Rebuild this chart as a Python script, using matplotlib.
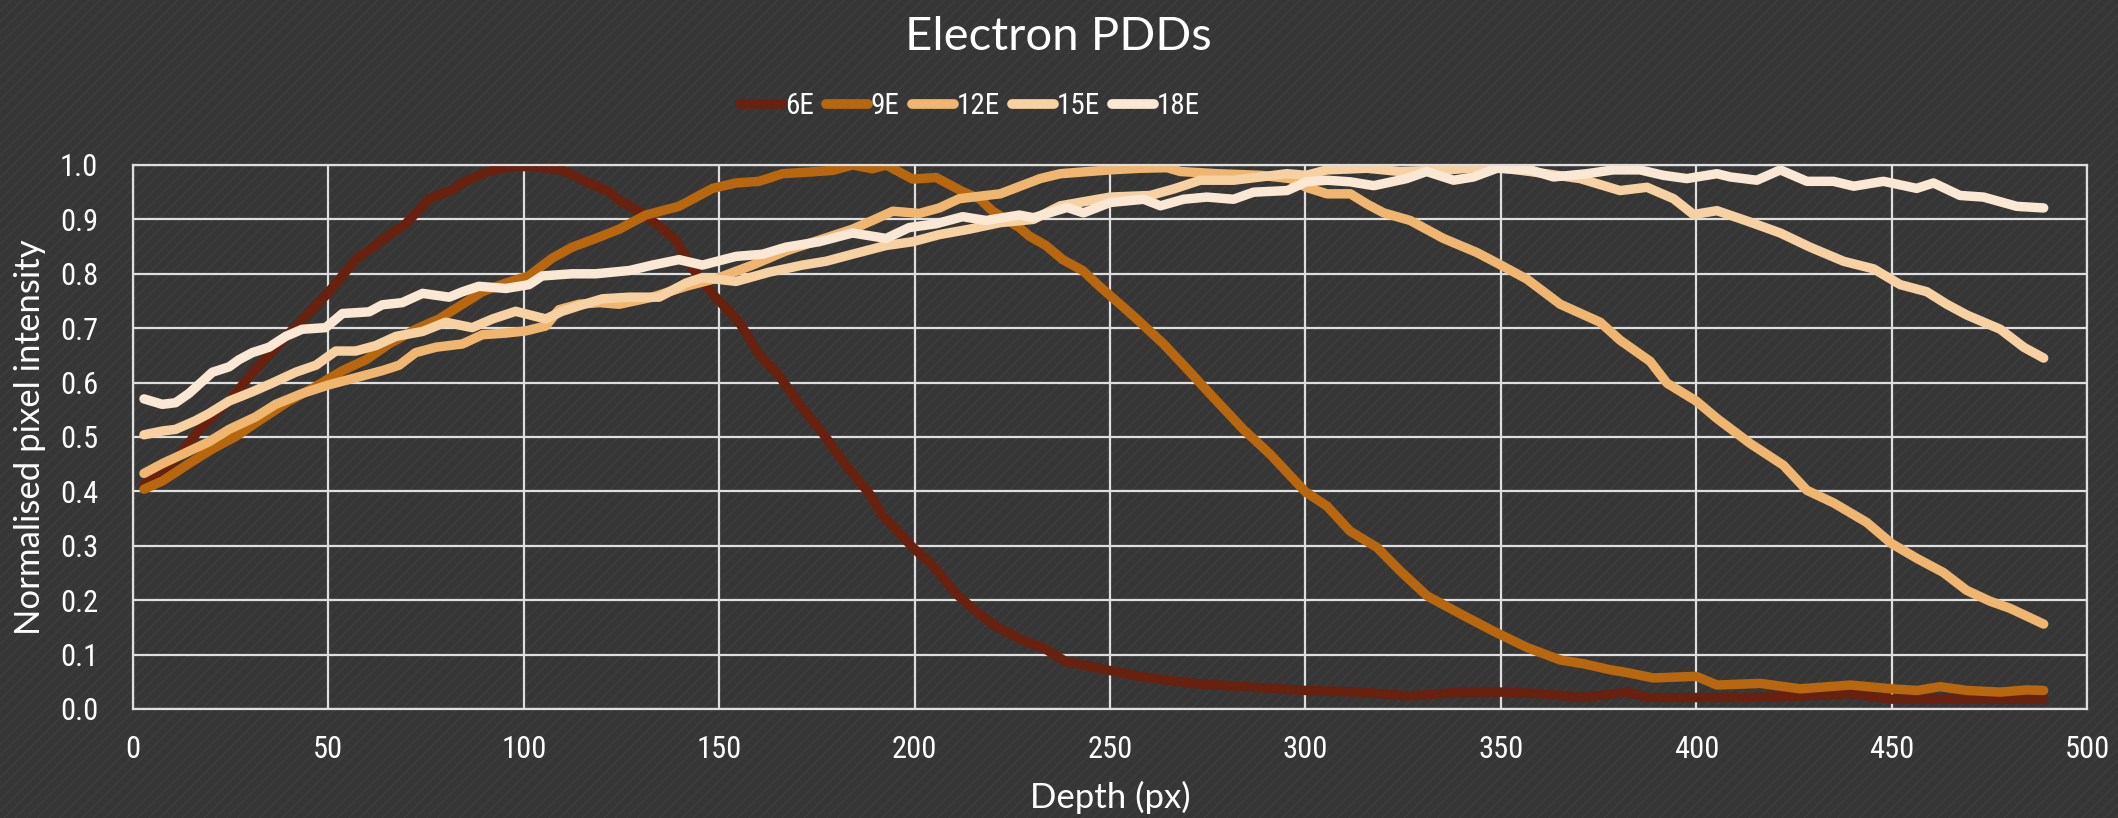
import matplotlib
matplotlib.use('Agg')
from matplotlib import pyplot as plt
from matplotlib import font_manager
from matplotlib.patches import Rectangle


# depth (px) and normalised intensity
depth_6e = [2.8, 10.9, 17.7, 24.6, 31.4, 40, 49.3, 57, 63.8, 69.8, 75.8, 81.7, 84.3, 90.3, 97, 103, 110,
            116.7, 121.8, 124.4, 129.5, 134.6, 138.9, 143.2, 149.1, 155.1, 160.2, 165.4, 170.5, 176.5,
            182.4, 188.4, 191.8, 199.5, 204.6, 210.6, 215.7, 220.8, 227.6, 232.8, 238.7, 245.6, 252.4,
            260.2, 271.3, 284.1, 300, 314, 326.8, 339.6, 350, 361, 371, 382.2, 388, 400, 413.8, 426.6,
            439.4, 450, 460.7, 473.5, 482, 488.9]
pdd_6e = [0.413, 0.458, 0.52, 0.566, 0.625, 0.691, 0.760, 0.826, 0.862, 0.892, 0.938, 0.954, 0.967, 0.987,
          0.997, 0.997, 0.99, 0.967, 0.951, 0.935, 0.915, 0.888, 0.862, 0.809, 0.757, 0.711, 0.652, 0.612,
          0.560, 0.507, 0.448, 0.396, 0.356, 0.297, 0.264, 0.212, 0.179, 0.152, 0.126, 0.113, 0.087, 0.077,
          0.067, 0.057, 0.047, 0.041, 0.034, 0.031, 0.024, 0.031, 0.031, 0.028, 0.021, 0.031, 0.021, 0.021,
          0.021, 0.024, 0.028, 0.018, 0.018, 0.018, 0.018, 0.018]

depth_9e = [2.8, 7.5, 14.3, 20.3, 26.3, 33.1, 39.9, 46.8, 53.6, 59.6, 65.5, 72.3, 78.3, 84.3, 89.4, 95.4,
            101.3, 107.3, 112.4, 118.4, 124.4, 131.2, 139.7, 148.3, 154.3, 160.2, 166.2, 173, 179, 184.1,
            189.2, 192.7, 199.5, 205.5, 212.3, 216.6, 220, 226.8, 229.4, 233.6, 237.9, 243, 247.3, 252.4,
            256.8, 263.7, 270.5, 275.6, 284.1, 291, 300, 305.5, 311.4, 318.3, 324.2, 331.1, 339.6, 348.1,
            356.7, 365.2, 371.2, 378, 382.2, 389, 400, 405.3, 416.4, 426.6, 439.4, 450, 456.5, 462.4,
            469.3, 477.8, 484.6, 488.9]
pdd_9e = [0.404, 0.419, 0.451, 0.478, 0.501, 0.534, 0.566, 0.593, 0.622, 0.642, 0.671, 0.698, 0.717, 0.744,
          0.767, 0.783, 0.796, 0.829, 0.849, 0.865, 0.882, 0.908, 0.924, 0.957, 0.967, 0.970, 0.984, 0.987,
          0.990, 1.0, 0.993, 1.0, 0.974, 0.977, 0.951, 0.938, 0.915, 0.885, 0.869, 0.852, 0.826, 0.806,
          0.777, 0.745, 0.717, 0.671, 0.619, 0.579, 0.514, 0.468, 0.399, 0.373, 0.327, 0.297, 0.254, 0.208,
          0.175, 0.143, 0.113, 0.090, 0.083, 0.072, 0.067, 0.057, 0.060, 0.044, 0.047, 0.037, 0.044, 0.037,
          0.034, 0.041, 0.034, 0.031, 0.035, 0.034]

depth_12e = [2.8, 7.5, 12.6, 19.4, 24.6, 31.4, 36.5, 43.3, 50.2, 57, 63.8, 68.1, 72.3, 77.5, 84.3, 89.4,
             95.4, 100.5, 105.6, 109, 114.1, 119.3, 124.4, 132.9, 141.5, 150, 158.5, 167.1, 175.6, 184.1,
             189.2, 194.4, 201.2, 206.3, 211.4, 218.3, 221.9, 232.1, 237.3, 250, 257.7, 264.6, 268, 277.4,
             288.5, 296.1, 300.2, 305.5, 311.5, 315.8, 320, 326.8, 335.3, 343.9, 350, 356.7, 365.2, 375.4,
             380.5, 388.2, 392.5, 400, 405.3, 413.8, 422.3, 428.3, 435.1, 443.6, 450, 456.4, 463.2, 469.2,
             475.2, 480.3, 488.9]
pdd_12e = [0.433, 0.451, 0.468, 0.491, 0.514, 0.537, 0.560, 0.580, 0.596, 0.609, 0.622, 0.632, 0.655, 0.665,
           0.671, 0.688, 0.691, 0.695, 0.704, 0.734, 0.744, 0.747, 0.744, 0.757, 0.777, 0.793, 0.816, 0.842,
           0.862, 0.882, 0.898, 0.915, 0.911, 0.921, 0.938, 0.944, 0.947, 0.975, 0.984, 0.991, 0.994, 0.995,
           0.988, 0.984, 0.981, 0.975, 0.959, 0.947, 0.947, 0.928, 0.912, 0.898, 0.865, 0.839, 0.816, 0.790,
           0.744, 0.711, 0.678, 0.639, 0.599, 0.566, 0.534, 0.488, 0.448, 0.402, 0.379, 0.343, 0.304, 0.277,
           0.251, 0.218, 0.198, 0.185, 0.156]

depth_15e = [2.8, 7.5, 10.9, 16, 19.4, 24.6, 30.5, 35.6, 41.6, 46.8, 51.9, 57, 62.1, 67.3, 74.1, 80, 86.8,
             92, 97.9, 105.6, 109.8, 114.1, 120.1, 127, 134.6, 141.5, 145.7, 154.3, 162.8, 171.3, 177.3,
             184.1, 192.7, 199.5, 206.3, 214, 221.9, 230.4, 237.3, 250, 260.3, 266.3, 273.1, 281.6, 288.5,
             295.3, 300.2, 305.5, 315.8, 324.2, 336.2, 347.3, 357.5, 370.3, 380.5, 387.4, 394.2, 399.3,
             405.3, 413, 421.5, 429.1, 437.7, 445.4, 452.2, 459, 464.1, 469.3, 477.8, 483.8, 488.9]
pdd_15e = [0.504, 0.511, 0.514, 0.530, 0.543, 0.566, 0.583, 0.599, 0.619, 0.632, 0.658, 0.658, 0.668, 0.685,
           0.694, 0.711, 0.701, 0.717, 0.731, 0.717, 0.731, 0.741, 0.754, 0.757, 0.757, 0.783, 0.793, 0.786,
           0.803, 0.816, 0.823, 0.836, 0.852, 0.859, 0.872, 0.882, 0.894, 0.9, 0.925, 0.941, 0.944, 0.956,
           0.972, 0.972, 0.978, 0.984, 0.981, 0.991, 0.994, 0.988, 0.991, 0.997, 0.988, 0.975, 0.953, 0.959,
           0.938, 0.909, 0.916, 0.897, 0.875, 0.849, 0.823, 0.809, 0.780, 0.767, 0.744, 0.724, 0.698, 0.665,
           0.645]

depth_18e = [2.8, 7.5, 10.9, 14.3, 17.7, 20.3, 24.6, 27.1, 30.5, 34.8, 39.1, 43.3, 49.3, 53.6, 60.4, 63.8,
             68.9, 74.1, 80.9, 84.3, 88.5, 95.4, 101.3, 104.7, 112.4, 118.4, 127, 132.9, 139.7, 145.7, 154.3,
             161.1, 167.1, 175.6, 184.1, 192.7, 198.6, 205.5, 212.3, 218.3, 226.8, 230.4, 239, 243.2, 250,
             258.6, 262.9, 268.8, 274.8, 281.6, 286.7, 295.3, 300.2, 305.5, 311.5, 317.5, 325.9, 331, 337.9,
             343, 349, 357.5, 363.5, 372, 378.8, 385.6, 391.6, 397.6, 405.3, 408.7, 415.5, 421.5, 428.3,
             435.1, 440.3, 447.9, 456.4, 460.7, 467.5, 473.5, 482, 488.9]
pdd_18e = [0.570, 0.560, 0.563, 0.580, 0.602, 0.619, 0.629, 0.642, 0.655, 0.665, 0.685, 0.698, 0.701, 0.727,
           0.730, 0.743, 0.747, 0.764, 0.757, 0.767, 0.777, 0.773, 0.780, 0.796, 0.800, 0.800, 0.806, 0.816,
           0.826, 0.816, 0.832, 0.836, 0.849, 0.859, 0.875, 0.865, 0.885, 0.892, 0.905, 0.898, 0.908, 0.903,
           0.922, 0.912, 0.931, 0.937, 0.925, 0.937, 0.941, 0.937, 0.950, 0.953, 0.969, 0.972, 0.969, 0.962,
           0.975, 0.988, 0.972, 0.978, 0.994, 0.991, 0.978, 0.984, 0.991, 0.991, 0.981, 0.975, 0.984, 0.978,
           0.972, 0.991, 0.970, 0.970, 0.961, 0.970, 0.957, 0.967, 0.944, 0.941, 0.924, 0.921]

labels = ['6E', '9E', '12E', '15E', '18E']
colors = ['#68200f', '#b8670f', '#f0b670', '#f7d1a2', '#fbe8d4']
xticks = [0, 50, 100, 150, 200, 250, 300, 350, 400, 450, 500]
yticks = [0.0, 0.1, 0.2, 0.3, 0.4, 0.5, 0.6, 0.7, 0.8, 0.9, 1.0]


def narrow_font():
    # a condensed face if one is installed, else Lato
    for name in ['Liberation Sans Narrow', 'Roboto Condensed', 'Open Sans Condensed']:
        try:
            font_manager.findfont(name, fallback_to_default=False)
            return {'family': name}
        except ValueError:
            pass
    fp = font_manager.FontProperties(family='DejaVu Sans', stretch='condensed')
    if 'Condensed' in font_manager.findfont(fp):
        return {'family': 'DejaVu Sans', 'stretch': 'condensed'}
    return {'family': 'Lato'}


narrow = narrow_font()
body = 'Lato'

bg = '#363636'
grid_col = '#dedede'
text_col = '#ffffff'

fig = plt.figure(figsize=(21.18, 8.18), dpi=100, facecolor=bg)
plt.rcParams['hatch.linewidth'] = 1.2
fig.patches.append(Rectangle((0, 0), 1, 1, transform=fig.transFigure, facecolor=bg,
                             edgecolor='#3d3d3d', hatch='///', lw=0, zorder=-10))

ax = fig.add_axes([0.0628, 0.1333, 0.9226, 0.665])
ax.set_facecolor('none')

series = [(depth_6e, pdd_6e), (depth_9e, pdd_9e), (depth_12e, pdd_12e),
          (depth_15e, pdd_15e), (depth_18e, pdd_18e)]
for (d, p), lab, col in zip(series, labels, colors):
    ax.plot(d, p, color=col, lw=6.8, label=lab, solid_capstyle='round', solid_joinstyle='round')

ax.set_xlim(0, 500)
ax.set_ylim(0, 1)
ax.set_xticks(xticks)
ax.set_yticks(yticks)
ax.set_yticklabels(['%.1f' % v for v in yticks])
ax.grid(True, color=grid_col, lw=1.6)
ax.set_axisbelow(True)
for sp in ax.spines.values():
    sp.set_color(grid_col)
    sp.set_linewidth(1.6)
ax.tick_params(length=0, colors=text_col, labelsize=22)
ax.tick_params(axis='y', pad=25)
ax.tick_params(axis='x', pad=19)
for t in ax.get_xticklabels() + ax.get_yticklabels():
    t.set_fontfamily(narrow['family'])
    if 'stretch' in narrow:
        t.set_fontstretch(narrow['stretch'])

fig.text(0.524, 0.0257, 'Depth (px)', ha='center', va='center', color=text_col,
         fontsize=25, fontfamily=body)
fig.text(0.0142, 0.466, 'Normalised pixel intensity', ha='center', va='center', rotation=90,
         color=text_col, fontsize=25, fontfamily=body)

fig.text(0.4995, 0.955, 'Electron PDDs', ha='center', va='center', color=text_col,
         fontsize=34, fontfamily=body)

leg = fig.legend(loc='center', bbox_to_anchor=(0.458, 0.870), ncol=5, frameon=False,
                 handlelength=1.45, handletextpad=0.1, columnspacing=0.4,
                 prop=dict(narrow, size=21))
for t in leg.get_texts():
    t.set_color(text_col)
for h in leg.get_lines():
    h.set_linewidth(7)
    h.set_solid_capstyle('round')

fig.savefig('out.png', dpi=100, facecolor=bg)
